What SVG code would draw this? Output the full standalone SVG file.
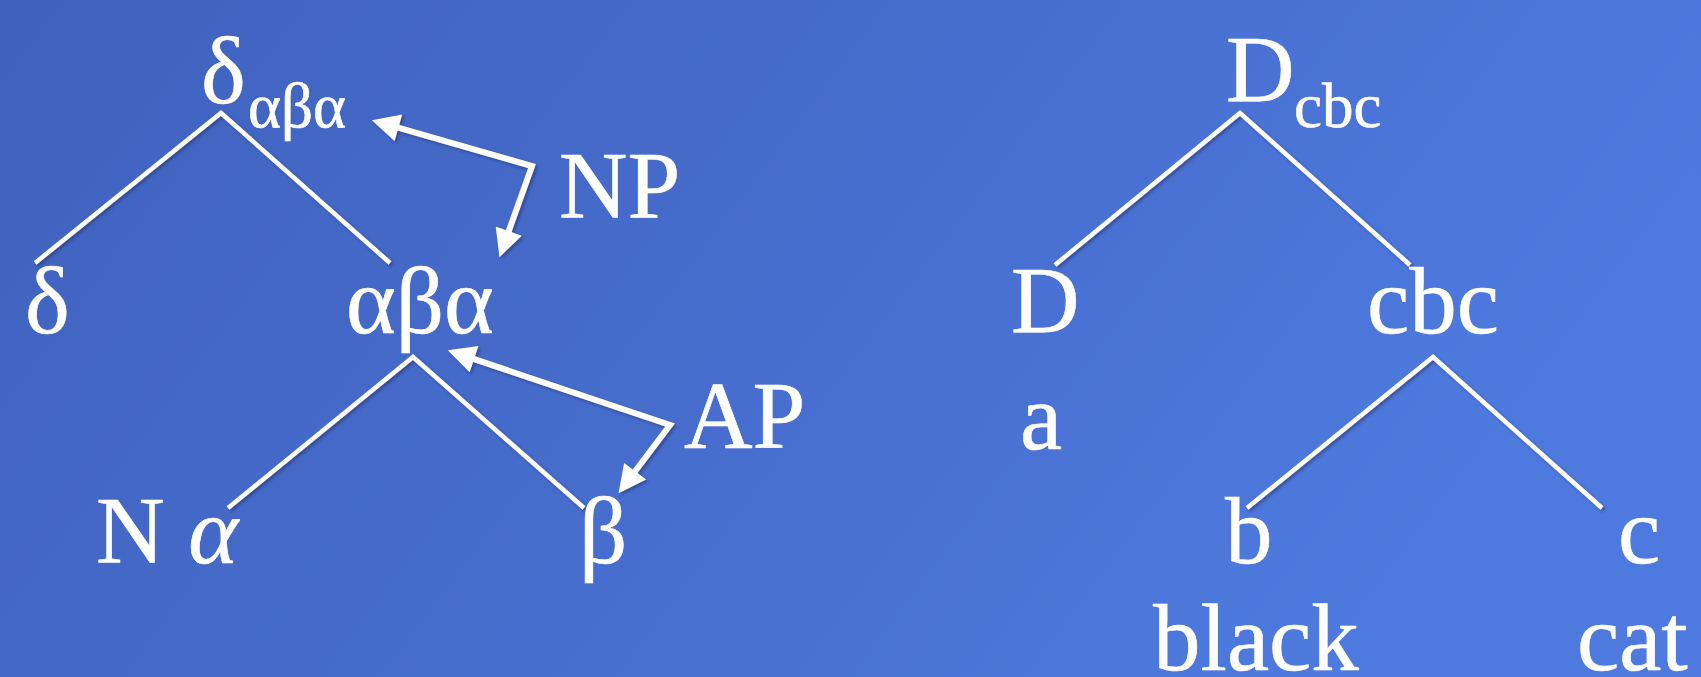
<svg xmlns="http://www.w3.org/2000/svg" width="1701" height="677" viewBox="0 0 1701 677">
<defs>
<linearGradient id="bg" x1="0" y1="0" x2="1" y2="0.3">
<stop offset="0" stop-color="#4062BE"/>
<stop offset="0.5" stop-color="#466CCC"/>
<stop offset="1" stop-color="#4E7ADF"/>
</linearGradient>
<filter id="sh" x="-10%" y="-10%" width="130%" height="130%">
<feDropShadow dx="2" dy="2" stdDeviation="1.5" flood-color="#1a2a60" flood-opacity="0.5"/>
</filter>
<marker id="ah" viewBox="0 0 10 10" refX="6.7" refY="5" markerWidth="5" markerHeight="4.6" orient="auto-start-reverse" markerUnits="strokeWidth">
<path d="M0,0 L10,5 L0,10 z" fill="#fff"/>
</marker>
</defs>
<style>
text{fill:#fff;stroke:#fff;stroke-width:0.6}
.t{font-size:95px}
.s{font-size:63px}
.e{stroke:#fff;stroke-width:4.5;fill:none;filter:url(#sh)}
.a{stroke:#fff;stroke-width:6;fill:none;stroke-linejoin:miter;marker-start:url(#ah);marker-end:url(#ah);filter:url(#sh)}
</style>
<rect width="1701" height="677" fill="url(#bg)"/>
<g id="connectors">
<polyline class="e" points="35,263 221,113 390,263"/>
<polyline class="e" points="228,508 413,357 584,508"/>
<polyline class="e" points="1055,265 1240,113 1410,265"/>
<polyline class="e" points="1247,508 1433,357 1602,508"/>
<path class="a" d="M380.6,122.7 L532,166 L502.5,248.6"/>
<path class="a" d="M456.5,353.2 L670,425 L624,486"/>
</g>
<g font-family="Liberation Serif, Tinos, Times New Roman, DejaVu Serif, serif">
<g id="n-delta-top"><text class="t" x="201" y="103">δ</text><text class="s" x="248" y="127">αβα</text></g>
<g id="n-delta"><text class="t" x="25" y="333">δ</text></g>
<g id="n-aba"><text class="t" x="346" y="333">αβα</text></g>
<g id="n-NP"><text class="t" x="559" y="218">NP</text></g>
<g id="n-AP"><text class="t" x="684" y="448">AP</text></g>
<g id="n-Nalpha"><text class="t" x="96" y="563">N <tspan font-style="italic">α</tspan></text></g>
<g id="n-beta"><text class="t" x="579" y="563">β</text></g>
<g id="n-D-top"><text class="t" x="1226" y="102">D</text><text class="s" x="1294" y="127">cbc</text></g>
<g id="n-D"><text class="t" x="1011" y="333">D</text></g>
<g id="n-cbc"><text class="t" x="1367" y="333">cbc</text></g>
<g id="n-a"><text class="t" x="1020" y="449">a</text></g>
<g id="n-b"><text class="t" x="1225" y="563">b</text></g>
<g id="n-c"><text class="t" x="1618" y="563">c</text></g>
<g id="n-black"><text class="t" x="1153" y="670">black</text></g>
<g id="n-cat"><text class="t" x="1577" y="670">cat</text></g>
</g>
</svg>
